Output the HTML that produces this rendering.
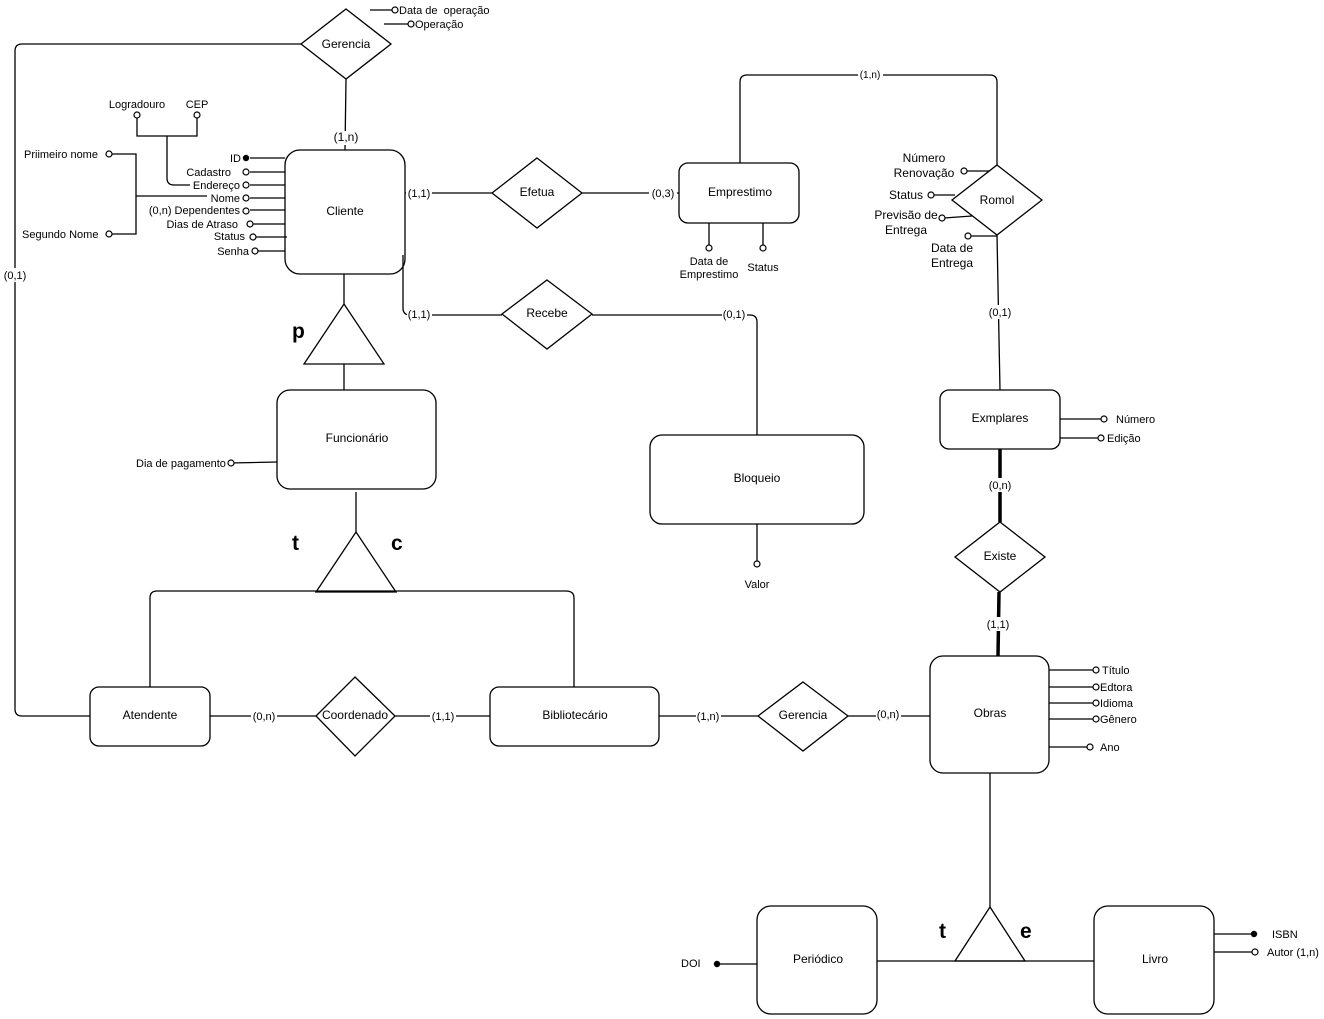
<!DOCTYPE html>
<html><head><meta charset="utf-8"><style>
html,body{margin:0;padding:0;background:#fff;}
svg{display:block;font-family:"Liberation Sans",Arial,sans-serif;}
text{fill:#000;}
.s{font-size:11px;}
.m{font-size:12px;}
.c{text-anchor:middle;}
.e{text-anchor:end;}
</style></head><body>
<svg width="1324" height="1019" viewBox="0 0 1324 1019" xmlns="http://www.w3.org/2000/svg">
<g fill="none" stroke="#000" stroke-width="1.3">
<rect x="285" y="150" width="120" height="124" rx="15"/>
<rect x="679" y="163" width="120" height="60" rx="9"/>
<rect x="277" y="390" width="159" height="99" rx="13"/>
<rect x="650" y="435" width="214" height="89" rx="12"/>
<rect x="940" y="390" width="120" height="59" rx="9"/>
<rect x="930" y="656" width="119" height="117" rx="13"/>
<rect x="490" y="687" width="169" height="59" rx="9"/>
<rect x="90" y="687" width="120" height="59" rx="9"/>
<rect x="757" y="906" width="120" height="108" rx="14"/>
<rect x="1094" y="906" width="120" height="108" rx="14"/>
<polygon points="346,9 391,44 346,79 301,44"/>
<polygon points="537,158 582,193 537,228 492,193"/>
<polygon points="997,165 1042,200 997,235 952,200"/>
<polygon points="547,280 592,314 547,349 502,314"/>
<polygon points="1000,522 1045,557 1000,592 955,557"/>
<polygon points="803,682 848,716 803,751 758,716"/>
<polygon points="355,677 395,716 355,756 316,716"/>
<polygon points="344,304 384,364 304,364"/>
<polygon points="356,532 396,592 316,592"/>
<polygon points="990,907 1025,961 955,961"/>
<path d="M370,10 H395 M384,24 H409"/>
<path d="M301,44 H22 Q15,44 15,51 V709 Q15,716 22,716 H90"/>
<path d="M346,79 L345,150"/>
<path d="M405,193 H492 M582,193 H679"/>
<path d="M740,163 V82 Q740,75 747,75 H990 Q997,75 997,82 V165"/>
<path d="M997,235 L1000,390"/>
<path d="M403,255 V308 Q403,315 410,315 H502 M592,315 H750 Q757,315 757,322 V435"/>
<path d="M757,524 V563"/>
<path d="M344,274 V304 M344,364 V390"/>
<path d="M356,492 V532"/>
<path d="M150,687 V598 Q150,591 157,591 H566 Q574,591 574,598 V687"/>
<path d="M210,716 H316 M395,716 H490 M659,716 H758 M848,716 H930"/>
<path d="M990,773 V907 M877,961 H1094"/>
<path d="M709,223 V247 M763,223 V247"/>
<path d="M1060,419 H1101 M1060,438 H1101"/>
<path d="M1049,670 H1093 M1049,687 H1093 M1049,703 H1093 M1049,719 H1093 M1049,747 H1087"/>
<path d="M1214,934 H1252 M1214,952 H1252"/>
<path d="M720,964 H757"/>
<path d="M230,463 L277,462"/>
<path d="M250,158 H285 M250,172 H285 M250,185 H285 M250,198 H285 M250,210 H285 M253,224 H285 M256,237 H287 M258,251 H285"/>
<path d="M137,118 V136 H197 V118 M167,136 V178 Q167,185 174,185 H190"/>
<path d="M112,154 H136 V234 H112 M136,196 H207"/>
<path d="M967,171 H990 M934,195 H955 M944,218 L972,216 M971,236 H997"/>
</g>
<g stroke="#000" stroke-width="3.5"><path d="M1000,449 V522 M999,592 L998,656"/></g>
<g fill="#fff" stroke="#000" stroke-width="1.2">
<circle cx="395" cy="10" r="3"/><circle cx="411" cy="24" r="3"/>
<circle cx="137" cy="115" r="3"/><circle cx="197" cy="115" r="3"/>
<circle cx="109" cy="154" r="3"/><circle cx="109" cy="234" r="3"/>
<circle cx="246" cy="172" r="3"/><circle cx="246" cy="185" r="3"/><circle cx="246" cy="198" r="3"/><circle cx="246" cy="211" r="3"/><circle cx="250" cy="224" r="3"/><circle cx="253" cy="237" r="3"/><circle cx="255" cy="251" r="3"/>
<circle cx="709" cy="248" r="3"/><circle cx="763" cy="248" r="3"/>
<circle cx="964" cy="171" r="3"/><circle cx="931" cy="195" r="3"/><circle cx="942" cy="218" r="3"/><circle cx="968" cy="236" r="3"/>
<circle cx="1104" cy="419" r="3"/><circle cx="1101" cy="438" r="3"/>
<circle cx="757" cy="564" r="3"/><circle cx="231" cy="463" r="3"/>
<circle cx="1096" cy="670" r="3"/><circle cx="1096" cy="687" r="3"/><circle cx="1096" cy="703" r="3"/><circle cx="1096" cy="719" r="3"/><circle cx="1090" cy="747" r="3"/>
<circle cx="1255" cy="952" r="3"/>
</g>
<g fill="#000"><circle cx="246" cy="158" r="3.2"/><circle cx="1254" cy="934" r="3.2"/><circle cx="717" cy="964" r="3.2"/></g>
<g fill="#fff"><rect x="332" y="131" width="27" height="14"/><rect x="406" y="186" width="26" height="14"/><rect x="649" y="186" width="28" height="14"/><rect x="858" y="68" width="25" height="13"/><rect x="407" y="308" width="25" height="14"/><rect x="722" y="308" width="25" height="14"/><rect x="987" y="305" width="25" height="14"/><rect x="987" y="478" width="25" height="14"/><rect x="987" y="617" width="25" height="14"/><rect x="2" y="268" width="26" height="14"/><rect x="251" y="709" width="26" height="14"/><rect x="430" y="709" width="26" height="14"/><rect x="696" y="709" width="25" height="14"/><rect x="876" y="707" width="25" height="14"/></g>
<g class="s">
<text x="346" y="141" class="c m">(1,n)</text>
<text x="419" y="197" class="c">(1,1)</text>
<text x="663" y="197" class="c">(0,3)</text>
<text x="870" y="78" class="c" style="font-size:10px">(1,n)</text>
<text x="419" y="318" class="c">(1,1)</text>
<text x="734" y="318" class="c">(0,1)</text>
<text x="1000" y="316" class="c">(0,1)</text>
<text x="1000" y="489" class="c">(0,n)</text>
<text x="998" y="628" class="c">(1,1)</text>
<text x="15" y="279" class="c">(0,1)</text>
<text x="264" y="720" class="c">(0,n)</text>
<text x="443" y="720" class="c">(1,1)</text>
<text x="708" y="720" class="c">(1,n)</text>
<text x="888" y="718" class="c">(0,n)</text>
</g>
<g class="m">
<text x="346" y="48" class="c">Gerencia</text>
<text x="345" y="215" class="c">Cliente</text>
<text x="537" y="196" class="c">Efetua</text>
<text x="740" y="196" class="c">Emprestimo</text>
<text x="997" y="204" class="c">Romol</text>
<text x="547" y="317" class="c">Recebe</text>
<text x="357" y="442" class="c">Funcionário</text>
<text x="757" y="482" class="c">Bloqueio</text>
<text x="1000" y="422" class="c">Exmplares</text>
<text x="1000" y="560" class="c">Existe</text>
<text x="990" y="717" class="c">Obras</text>
<text x="803" y="719" class="c">Gerencia</text>
<text x="575" y="719" class="c">Bibliotecário</text>
<text x="355" y="719" class="c">Coordenado</text>
<text x="150" y="719" class="c">Atendente</text>
<text x="818" y="963" class="c">Periódico</text>
<text x="1155" y="963" class="c">Livro</text>
<text x="924" y="162" class="c">Número</text>
<text x="924" y="177" class="c">Renovação</text>
<text x="906" y="199" class="c">Status</text>
<text x="906" y="219" class="c">Previsão de</text>
<text x="906" y="234" class="c">Entrega</text>
<text x="952" y="252" class="c">Data de</text>
<text x="952" y="267" class="c">Entrega</text>
</g>
<g class="s">
<text x="399" y="14">Data de&#160; operação</text>
<text x="415" y="28">Operação</text>
<text x="137" y="108" class="c">Logradouro</text>
<text x="197" y="108" class="c">CEP</text>
<text x="24" y="158">Priimeiro nome</text>
<text x="22" y="238">Segundo Nome</text>
<text x="241" y="162" class="e">ID</text>
<text x="231" y="176" class="e">Cadastro</text>
<text x="240" y="189" class="e">Endereço</text>
<text x="240" y="202" class="e">Nome</text>
<text x="240" y="214" class="e">(0,n) Dependentes</text>
<text x="238" y="228" class="e">Dias de Atraso</text>
<text x="245" y="240" class="e">Status</text>
<text x="249" y="255" class="e">Senha</text>
<text x="709" y="265" class="c">Data de</text>
<text x="709" y="278" class="c">Emprestimo</text>
<text x="763" y="271" class="c">Status</text>
<text x="1116" y="423">Número</text>
<text x="1107" y="442">Edição</text>
<text x="757" y="588" class="c">Valor</text>
<text x="136" y="467">Dia de pagamento</text>
<text x="1102" y="674">Título</text>
<text x="1100" y="691">Edtora</text>
<text x="1100" y="707">Idioma</text>
<text x="1100" y="723">Gênero</text>
<text x="1100" y="751">Ano</text>
<text x="1272" y="938">ISBN</text>
<text x="1267" y="956">Autor (1,n)</text>
<text x="681" y="967">DOI</text>
</g>
<g style="font-size:21px;font-weight:bold">
<text x="292" y="338">p</text>
<text x="292" y="550">t</text>
<text x="391" y="550">c</text>
<text x="939" y="938">t</text>
<text x="1020" y="938">e</text>
</g>
</svg>
</body></html>
